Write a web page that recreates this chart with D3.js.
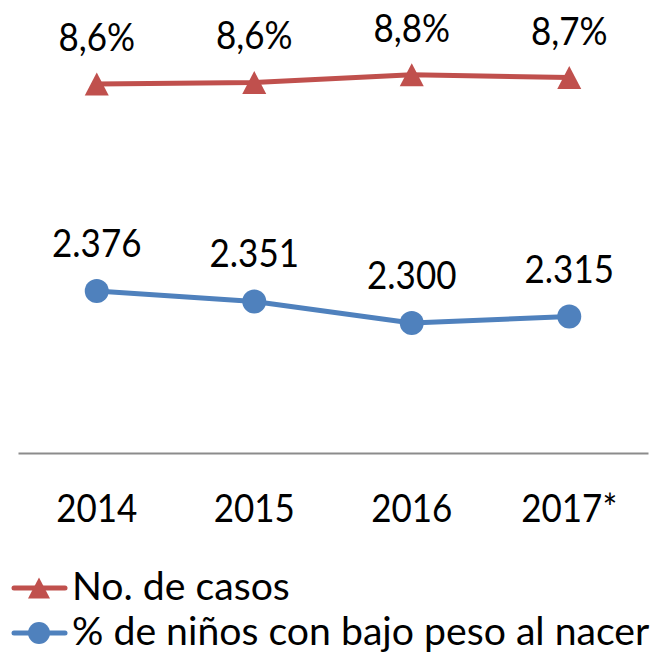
<!DOCTYPE html>
<html>
<head>
<meta charset="utf-8">
<script src="https://cdn.jsdelivr.net/npm/d3@7"></script>
<style>
  html, body { margin: 0; padding: 0; background: #ffffff; }
  svg { display: block; }
  text { font-family: Lato, "Open Sans", sans-serif; fill: #000; }
</style>
</head>
<body>
<svg id="chart" width="658" height="652"></svg>
<script>
// ---- data ----
const categories = ["2014", "2015", "2016", "2017*"];
const redValues  = [8.58, 8.62, 8.81, 8.74];      // shown as %
const blueValues = [2376, 2351, 2300, 2315];
const legendLabels = ["No. de casos", "% de niños con bajo peso al nacer"];

// ---- setup ----
const W = 658, H = 652;
const svg = d3.select("#chart");
const FS = 35, SY = 1.12;
const red = "#C0504D", blue = "#4F81BD";

const loc = d3.formatLocale({decimal: ",", thousands: ".", grouping: [3], currency: ["", ""]});
const fmtPct = v => loc.format(".1f")(v) + "%";
const fmtNum = loc.format(",d");

const x = d3.scaleBand().domain(categories).range([18, 648]).padding(0);
const cx = c => x(c) + x.bandwidth() / 2;
const axisY = 453;
const yRed  = d3.scaleLinear().domain([-0.55, 10.66]).range([axisY, 0]);
const yBlue = d3.scaleLinear().domain([1991, 3067]).range([axisY, 0]);

function stretchedText(g, tx, ty, str, anchor, sx) {
  g.append("text")
    .attr("transform", `translate(${tx},${ty}) scale(${sx || 1},${SY})`)
    .attr("text-anchor", anchor || "middle")
    .attr("font-size", FS)
    .text(str);
}

// axis line
const xAxis = d3.axisBottom(x).tickSize(0).tickFormat("");
const axG = svg.append("g").attr("transform", `translate(0,${axisY})`).call(xAxis);
axG.select(".domain").attr("stroke", "#8c8c8c").attr("stroke-width", 2);

// category labels
const catG = svg.append("g");
categories.forEach(c => stretchedText(catG, cx(c), 522, c));

// triangle marker path (bbox centred)
const triPath = "M0,-11.5L12,11.5L-12,11.5Z";

// red series
const redData = categories.map((c, i) => ({c, v: redValues[i]}));
svg.append("path").datum(redData)
  .attr("fill", "none").attr("stroke", red).attr("stroke-width", 5)
  .attr("stroke-linejoin", "round")
  .attr("d", d3.line().x(d => cx(d.c)).y(d => yRed(d.v)));
svg.append("g").selectAll("path").data(redData).join("path")
  .attr("d", triPath).attr("fill", red)
  .attr("transform", d => `translate(${cx(d.c)},${yRed(d.v)})`);
const redLab = svg.append("g");
redData.forEach(d => stretchedText(redLab, cx(d.c), yRed(d.v) - 33, fmtPct(d.v)));

// blue series
const blueData = categories.map((c, i) => ({c, v: blueValues[i]}));
svg.append("path").datum(blueData)
  .attr("fill", "none").attr("stroke", blue).attr("stroke-width", 5)
  .attr("stroke-linejoin", "round")
  .attr("d", d3.line().x(d => cx(d.c)).y(d => yBlue(d.v)));
svg.append("g").selectAll("circle").data(blueData).join("circle")
  .attr("cx", d => cx(d.c)).attr("cy", d => yBlue(d.v)).attr("r", 12)
  .attr("fill", blue);
const blueLab = svg.append("g");
blueData.forEach(d => stretchedText(blueLab, cx(d.c), yBlue(d.v) - 34, fmtNum(d.v)));

// legend
const legend = svg.append("g");
const legendRows = [
  {label: legendLabels[0], color: red, shape: "tri", y: 588, base: 600},
  {label: legendLabels[1], color: blue, shape: "circ", y: 633, base: 645}
];
legendRows.forEach(r => {
  legend.append("line").attr("x1", 14).attr("x2", 65).attr("y1", r.y).attr("y2", r.y)
    .attr("stroke", r.color).attr("stroke-width", 5).attr("stroke-linecap", "round");
  if (r.shape === "tri") {
    legend.append("path").attr("d", "M0,-10.5L11,10.5L-11,10.5Z").attr("fill", r.color)
      .attr("transform", `translate(39,${r.y})`);
  } else {
    legend.append("circle").attr("cx", 39).attr("cy", r.y).attr("r", 11).attr("fill", r.color);
  }
  stretchedText(legend, 72, r.base, r.label, "start", 1.12);
});
</script>
</body>
</html>
